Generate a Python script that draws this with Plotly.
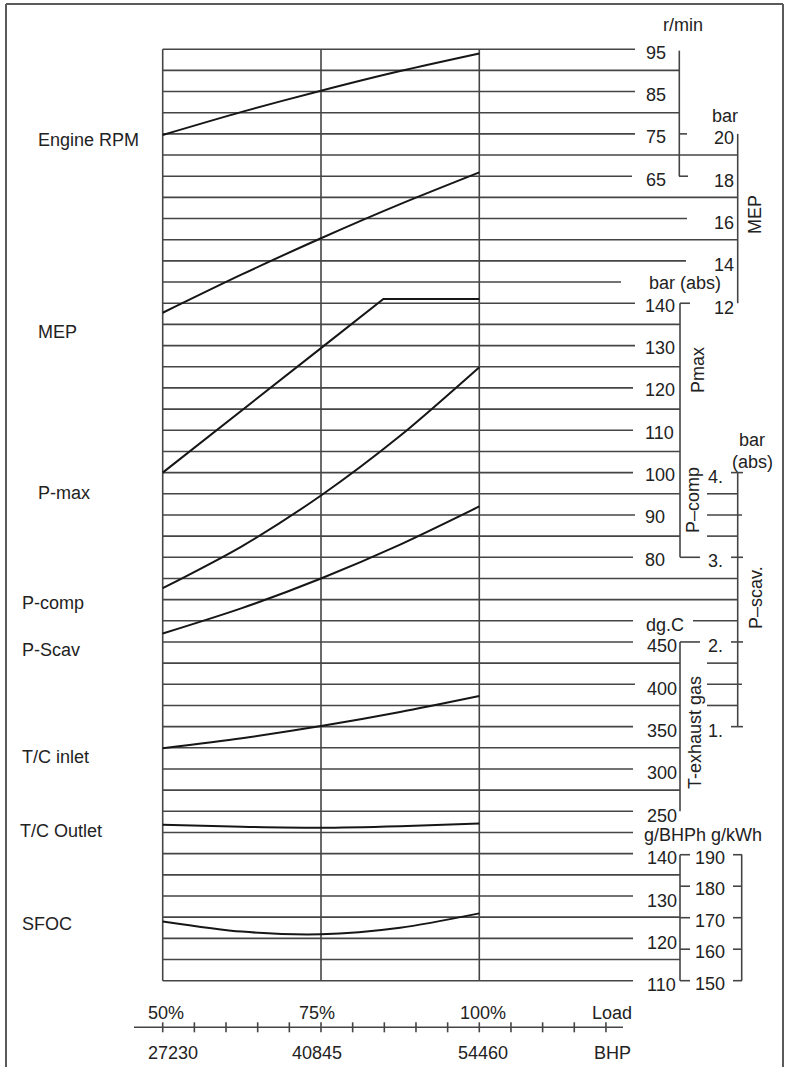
import plotly.graph_objects as go

W, H = 788, 1067

# ---------------- data ----------------
load = [50, 62.5, 75, 87.5, 100]
rpm = [74.75, 80.2, 85.2, 89.85, 94.0]            # r/min
mep = [11.55, 13.36, 15.07, 16.68, 18.18]         # bar
pmax_load = [50, 62.5, 75, 84.85, 100]
pmax = [100.0, 114.8, 129.4, 141.0, 141.0]        # bar (abs)
pcomp = [72.7, 82.6, 94.6, 108.7, 124.9]          # bar (abs)
pscav = [2.10, 2.40, 2.75, 3.15, 3.60]            # bar (abs)
t_inlet = [324.5, 336.4, 350.7, 367.3, 386.2]     # dg.C
t_outlet = [234.2, 231.8, 230.7, 232.5, 235.5]    # dg.C
sfoc = [124.0, 121.6, 120.95, 122.5, 125.9]       # g/BHPh

rpm_ticks = [95, 85, 75, 65]
mep_ticks = [20, 18, 16, 14, 12]
pbar_ticks = [140, 130, 120, 110, 100, 90, 80]
pscav_ticks = [4, 3, 2, 1]
texh_ticks = [450, 400, 350, 300, 250]
bhph_ticks = [140, 130, 120, 110]
kwh_ticks = [190, 180, 170, 160, 150]
load_ticks = [50, 75, 100]
load_labels = ["50%", "75%", "100%"]
bhp_labels = ["27230", "40845", "54460"]
left_labels = ["Engine RPM", "MEP", "P-max", "P-comp", "P-Scav", "T/C inlet", "T/C Outlet", "SFOC"]

# ---------------- geometry ----------------
Y0, DY = 49.2, 21.17      # pixel of grid line 0, pixels per grid step
X50, DX = 162.7, 6.332    # pixel of 50 % load, pixels per % load


def px2load(px):
    return 50 + (px - X50) / DX


def py2grid(py):
    return (py - Y0) / DY


G_TOP, G_BOT = py2grid(0), py2grid(H)

# each nomogram scale: value at a grid line, that grid index, value step per grid line
SCALES = {
    "y2": (95, 0, -5),
    "y3": (20, 4, -1),
    "y4": (140, 12, -5),
    "y5": (4, 20, -0.25),
    "y6": (450, 28, -25),
    "y7": (140, 38, -5),
    "y8": (190, 38.05, -40 / 5.95),
}


def axis_range(key):
    v0, g0, st = SCALES[key]
    return [v0 + st * (G_BOT - g0), v0 + st * (G_TOP - g0)]


FONT = dict(family="Liberation Sans, Arial, sans-serif", size=18, color="#222222")
GRID = dict(color="#454545", width=1.6)
CURVE = dict(color="#161616", width=2)

fig = go.Figure()


def curve(x, y, ax, shape="spline"):
    fig.add_trace(go.Scatter(x=x, y=y, yaxis=ax, mode="lines",
                             line=dict(CURVE, shape=shape, smoothing=0.8),
                             hoverinfo="skip", showlegend=False))


curve(load, rpm, "y2")
curve(load, mep, "y3")
curve(pmax_load, pmax, "y4", shape="linear")
curve(load, pcomp, "y4")
curve(load, pscav, "y5")
curve(load, t_inlet, "y6")
curve(load, t_outlet, "y6")
curve(load, sfoc, "y7")

shapes = []


def hseg(px0, px1, g, yref="y", line=GRID):
    shapes.append(dict(type="line", xref="x", yref=yref, x0=px2load(px0), x1=px2load(px1),
                       y0=g, y1=g, line=line, layer="below"))


def vseg(px, g0, g1, yref="y", line=GRID):
    shapes.append(dict(type="line", xref="x", yref=yref, x0=px2load(px), x1=px2load(px),
                       y0=g0, y1=g1, line=line, layer="below"))


# horizontal grid lines with their right-hand ends (pixels)
RIGHT_END = [635, 679, 635, 679, 635, 738, 632, 738, 687, 738, 686, 621, 635, 680, 635,
             680, 633, 680, 633, 680, 633, 680, 635, 680, 633, 738, 738, 633, 633, 680,
             635, 680, 633, 680, 633, 680, 633, 633, 633, 680, 633, 680, 633, 680, 633]
for i, end in enumerate(RIGHT_END):
    hseg(X50, end, i)
# vertical grid lines at 50/75/100 %
for L in load_ticks:
    shapes.append(dict(type="line", xref="x", yref="y", x0=L, x1=L, y0=0, y1=44,
                       line=GRID, layer="below"))

# extra segments / ticks
hseg(693, 738, 27)
for g in (21, 23, 29, 31):
    hseg(707, 738, g)
for g in (22, 30):
    hseg(707, 742, g)
for g in (20, 24, 28, 32):
    hseg(731, 743, g)
hseg(679, 687, 4)
hseg(679, 688, 6)
hseg(680, 690, 12)
hseg(680, 700, 24)
hseg(680, 700, 28)
for v in kwh_ticks:
    hseg(680, 690, v, yref="y8")
    hseg(733, 742, v, yref="y8")

# scale axis lines
vseg(679.3, 0.07, 6)
vseg(737.7, 4, 12)
vseg(680, 12, 24)
vseg(737.7, 20, 32)
vseg(680, 28, 36)
vseg(680, 190, 150, yref="y8")
vseg(741.7, 190, 150, yref="y8")

# bottom load / BHP axis
AX_Y = 1027.3
shapes.append(dict(type="line", xref="x", yref="paper", x0=px2load(134), x1=px2load(623),
                   y0=1 - AX_Y / H, y1=1 - AX_Y / H, line=GRID))
for L in range(50, 121, 5):
    shapes.append(dict(type="line", xref="x", yref="paper", x0=L, x1=L,
                       y0=1 - (AX_Y - 5) / H, y1=1 - (AX_Y + 5) / H, line=GRID))

# frame
FRAME = dict(color="#5a5a5a", width=2)
shapes.append(dict(type="line", xref="paper", yref="paper", x0=6 / W, x1=6 / W, y0=1 - 4 / H, y1=0, line=FRAME))
shapes.append(dict(type="line", xref="paper", yref="paper", x0=6 / W, x1=783 / W, y0=1 - 4 / H, y1=1 - 4 / H, line=FRAME))
shapes.append(dict(type="line", xref="paper", yref="paper", x0=783 / W, x1=783 / W, y0=1 - 4 / H, y1=0, line=FRAME))

annotations = []


def txt(text, px, py, xanchor="center", angle=0):
    annotations.append(dict(text=text, xref="paper", yref="paper", x=px / W, y=1 - py / H,
                            xanchor=xanchor, yanchor="middle", showarrow=False,
                            textangle=angle, font=FONT))


def tick_label(text, px, val, yref, shift, xanchor="left"):
    annotations.append(dict(text=text, xref="paper", yref=yref, x=px / W, y=val,
                            xanchor=xanchor, yanchor="middle", yshift=-shift,
                            showarrow=False, font=FONT))


for v in rpm_ticks:
    tick_label(str(v), 644, v, "y2", 3.5)
for v in pbar_ticks:
    tick_label(str(v), 643, v, "y4", 2.5)
for v in texh_ticks:
    tick_label(str(v), 645, v, "y6", 4.5)
for v in bhph_ticks:
    tick_label(str(v), 645, v, "y7", 4.5)
for v in mep_ticks:
    tick_label(str(v), 736, v, "y3", 4.5, xanchor="right")
for v in pscav_ticks:
    tick_label(f"{v}.", 725, v, "y5", 4, xanchor="right")
for v in kwh_ticks:
    tick_label(str(v), 710, v, "y8", 3, xanchor="center")

txt("r/min", 683, 25)
txt("bar", 725, 116)
txt("bar (abs)", 685, 283)
txt("MEP", 755, 215, angle=-90)
txt("Pmax", 698, 370, angle=-90)
txt("P\u2013comp", 693, 500, angle=-90)
txt("bar", 752, 440)
txt("(abs)", 752, 462)
txt("P\u2013scav.", 756, 598, angle=-90)
txt("dg.C", 665, 625)
txt("T-exhaust gas", 695, 733, angle=-90)
txt("g/BHPh g/kWh", 703, 835)

LEFT_POS = [(36, 140), (36, 332), (36, 493), (20, 603), (20, 650), (20, 757), (18, 831), (20, 924)]
for label, (px, py) in zip(left_labels, LEFT_POS):
    txt(label, px, py, xanchor="left")

LOAD_X = [165.5, 317, 482.6]
BHP_X = [172.6, 317, 482.6]
for lab, px in zip(load_labels, LOAD_X):
    txt(lab, px, 1012.5)
for lab, px in zip(bhp_labels, BHP_X):
    txt(lab, px, 1053)
txt("Load", 612, 1012.5)
txt("BHP", 612, 1053)

layout = dict(
    width=W, height=H, margin=dict(l=0, r=0, t=0, b=0, pad=0),
    paper_bgcolor="white", plot_bgcolor="white", showlegend=False,
    xaxis=dict(range=[px2load(0), px2load(W)], visible=False, fixedrange=True),
    yaxis=dict(range=[G_BOT, G_TOP], visible=False, fixedrange=True),
    shapes=shapes, annotations=annotations, hovermode=False,
)
for key in SCALES:
    layout["yaxis" + key[1:]] = dict(range=axis_range(key), visible=False,
                                     overlaying="y", fixedrange=True)
fig.update_layout(**layout)
fig.write_html("out.html", config=dict(displayModeBar=False),
               post_script="document.body.style.margin='0px';document.body.style.overflow='hidden';")
